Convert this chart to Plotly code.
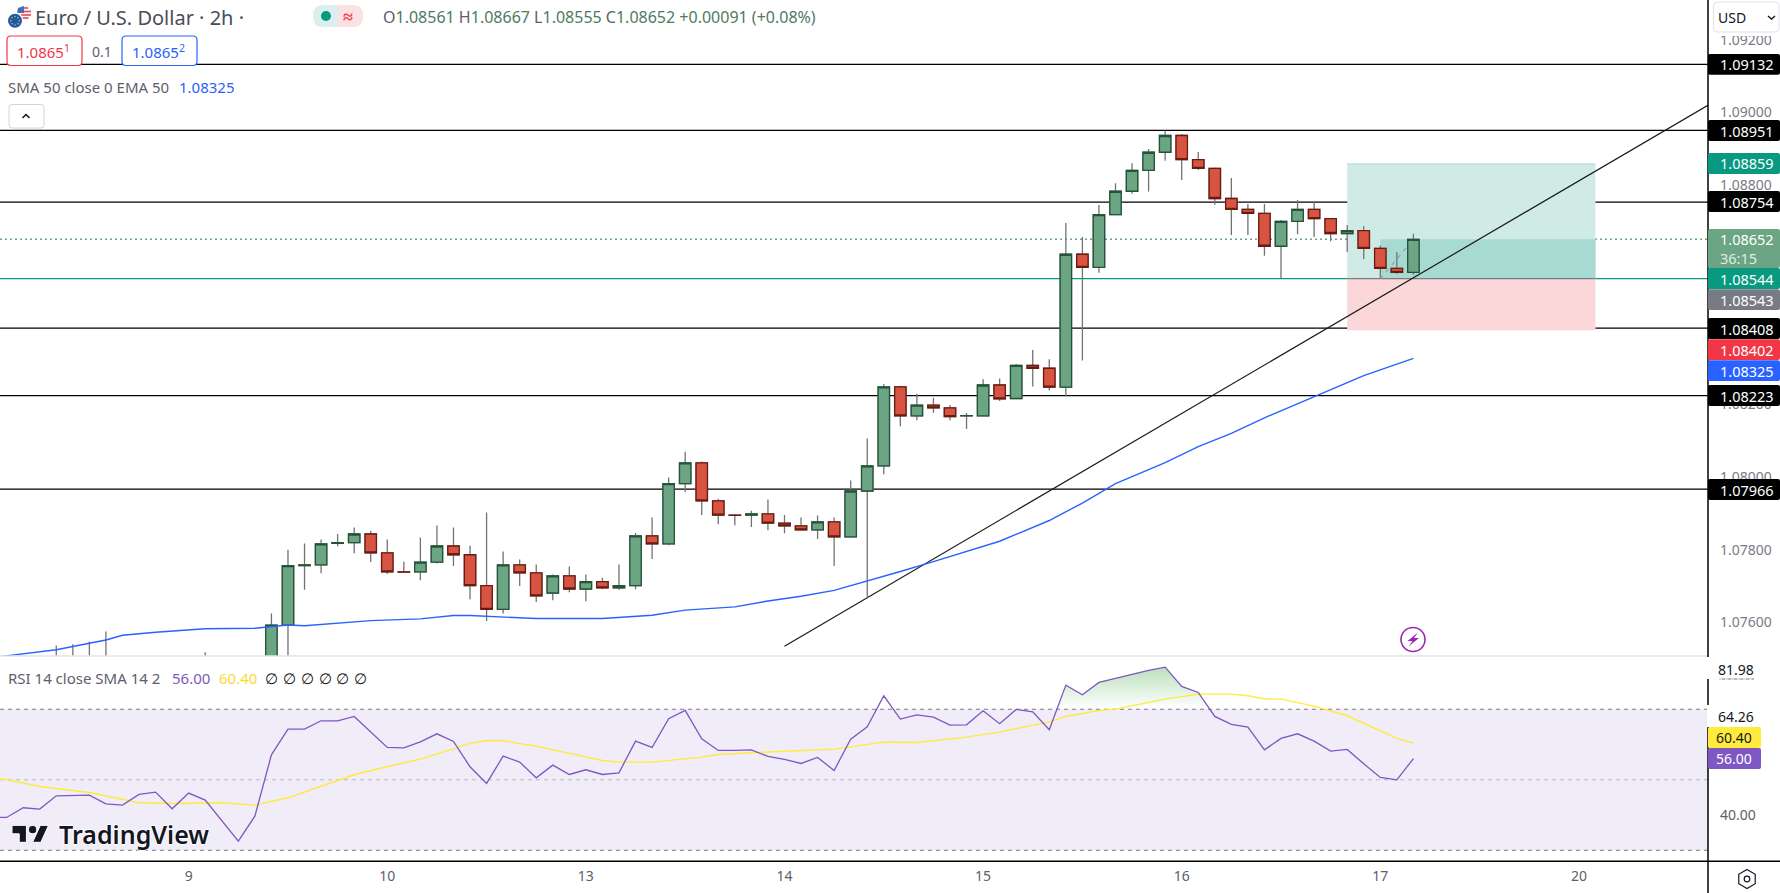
import numpy as np
import plotly.graph_objects as go

W, H = 1780, 893
# ---------- data ----------
bars   = [-80,-79,-78,-77,-71,-67,-66,-65,-64,-63,-62,-61,-60,-59,-58,-57,-56,-55,-54,-53,-52,-51,-50,-49,-48,-47,-46,-45,-44,-43,-42,-41,-40,-39,-38,-37,-36,-35,-34,-33,-32,-31,-30,-29,-28,-27,-26,-25,-24,-23,-22,-21,-20,-19,-18,-17,-16,-15,-14,-13,-12,-11,-10,-9,-8,-7,-6,-5,-4,-3,-2,-1,0,1,2]
opens  = [1.07480,1.07490,1.07480,1.07490,1.07475,1.07470,1.07593,1.07756,1.07758,1.07817,1.07819,1.07843,1.07791,1.07739,1.07739,1.07766,1.07810,1.07786,1.07701,1.07636,1.07758,1.07736,1.07681,1.07728,1.07692,1.07712,1.07695,1.07701,1.07838,1.07816,1.07981,1.08038,1.07934,1.07895,1.07895,1.07898,1.07873,1.07865,1.07854,1.07876,1.07835,1.07961,1.08030,1.08247,1.08167,1.08197,1.08189,1.08167,1.08167,1.08252,1.08215,1.08306,1.08298,1.08246,1.08611,1.08575,1.08720,1.08784,1.08841,1.08891,1.08937,1.08871,1.08847,1.08764,1.08734,1.08723,1.08633,1.08701,1.08734,1.08709,1.08668,1.08676,1.08627,1.08572,1.08561]
highs  = [1.07537,1.07540,1.07548,1.07575,1.07518,1.07625,1.07800,1.07817,1.07828,1.07843,1.07861,1.07852,1.07828,1.07767,1.07833,1.07866,1.07861,1.07811,1.07902,1.07795,1.07773,1.07759,1.07732,1.07754,1.07732,1.07723,1.07759,1.07846,1.07888,1.07998,1.08069,1.08042,1.07940,1.07898,1.07907,1.07938,1.07895,1.07888,1.07894,1.07888,1.07990,1.08105,1.08255,1.08250,1.08228,1.08217,1.08197,1.08175,1.08268,1.08270,1.08310,1.08348,1.08323,1.08697,1.08658,1.08746,1.08806,1.08861,1.08900,1.08951,1.08941,1.08892,1.08849,1.08820,1.08749,1.08749,1.08705,1.08760,1.08757,1.08709,1.08691,1.08688,1.08635,1.08617,1.08667]
lows   = [1.07400,1.07400,1.07400,1.07400,1.07400,1.07430,1.07450,1.07690,1.07735,1.07809,1.07790,1.07766,1.07733,1.07738,1.07716,1.07762,1.07755,1.07664,1.07604,1.07625,1.07700,1.07656,1.07661,1.07683,1.07658,1.07691,1.07690,1.07691,1.07774,1.07812,1.07958,1.07895,1.07870,1.07867,1.07862,1.07853,1.07845,1.07853,1.07829,1.07755,1.07834,1.07666,1.08007,1.08139,1.08155,1.08176,1.08155,1.08131,1.08166,1.08208,1.08215,1.08248,1.08237,1.08221,1.08319,1.08560,1.08720,1.08777,1.08783,1.08868,1.08815,1.08842,1.08747,1.08664,1.08664,1.08607,1.08545,1.08666,1.08658,1.08647,1.08617,1.08598,1.08545,1.08557,1.08555]
closes = [1.07470,1.07480,1.07490,1.07480,1.07470,1.07593,1.07756,1.07758,1.07816,1.07819,1.07843,1.07791,1.07739,1.07738,1.07766,1.07810,1.07786,1.07701,1.07636,1.07758,1.07736,1.07673,1.07728,1.07692,1.07712,1.07695,1.07701,1.07838,1.07816,1.07981,1.08038,1.07934,1.07895,1.07894,1.07898,1.07873,1.07865,1.07854,1.07876,1.07835,1.07961,1.08030,1.08247,1.08167,1.08197,1.08189,1.08165,1.08168,1.08252,1.08214,1.08306,1.08298,1.08246,1.08611,1.08575,1.08720,1.08784,1.08841,1.08891,1.08937,1.08871,1.08847,1.08764,1.08734,1.08723,1.08633,1.08701,1.08734,1.08709,1.08668,1.08676,1.08627,1.08572,1.08561,1.08652]

ema_bars = [-84,-80,-77,-76,-74,-71,-68,-67,-66,-65,-63,-61,-58,-56,-55,-53,-51,-47,-44,-42,-39,-37,-35,-33,-31,-29,-27,-25,-23,-20,-18,-16,-13,-11,-9,-7,-4,-1,2]
ema_vals = [1.07503,1.07525,1.07552,1.07565,1.07573,1.07583,1.07584,1.07589,1.07593,1.07591,1.07598,1.07605,1.07610,1.07619,1.07619,1.07614,1.07611,1.07611,1.07620,1.07634,1.07643,1.07659,1.07672,1.07688,1.07713,1.07740,1.07767,1.07795,1.07823,1.07880,1.07928,1.07981,1.08039,1.08083,1.08119,1.08162,1.08220,1.08278,1.08325]

rsi_bars = list(range(-84, 3))
rsi_vals = [39.31,39.31,42.06,41.68,45.46,45.56,45.65,43.19,42.81,45.84,46.50,41.77,46.22,44.23,38.46,32.60,39.69,57.09,64.37,64.37,66.74,66.74,67.97,63.52,59.17,59.08,60.78,63.05,60.87,53.69,48.96,56.71,55.01,50.57,54.16,51.51,52.84,51.51,51.99,60.97,59.17,67.31,69.67,61.63,58.32,58.32,58.51,56.62,55.77,54.63,56.34,52.65,61.54,65.04,73.83,67.21,68.44,67.78,65.51,65.60,69.57,65.89,69.95,69.29,64.18,76.86,74.11,77.61,78.75,80.07,81.02,81.96,76.48,74.78,67.97,65.70,64.94,58.51,61.73,63.05,60.97,58.13,58.61,54.54,50.66,50.00,56.00]
sma_bars = [-84,-83,-81,-78,-75,-73,-70,-68,-66,-64,-62,-60,-58,-56,-55,-54,-53,-51,-47,-46,-44,-41,-40,-38,-33,-30,-28,-25,-23,-21,-20,-19,-17,-16,-13,-11,-9,-8,-7,-6,-4,-2,0,1,2]
sma_vals = [50.28,50.09,48.11,46.41,43.48,43.29,43.48,42.81,44.89,48.11,51.42,53.78,55.86,58.79,60.40,61.06,61.06,59.55,55.48,55.01,55.01,56.43,57.19,57.66,58.70,60.69,60.59,62.10,63.52,65.51,66.36,67.97,69.67,70.05,72.88,74.30,74.30,73.83,72.98,72.88,70.90,68.16,64.00,61.73,60.40]

level_lines = [1.09132, 1.08951, 1.08754, 1.08408, 1.08223, 1.07966]
entry, stop_price, target = 1.08544, 1.08402, 1.08859
last_price = 1.08652
trend_bars, trend_vals = [-36, 19.83], [1.07535, 1.09021]
price_ticks = [1.092, 1.090, 1.088, 1.082, 1.080, 1.078, 1.076]
day_ticks = [-72, -60, -48, -36, -24, -12, 0, 12]
day_labels = ["9", "10", "13", "14", "15", "16", "17", "20"]

# ---------- colours / fonts ----------
FONT = "Noto Sans"
GREEN, GREEN_D = "#6ba583", "#225437"
RED, RED_D = "#d75442", "#6b1a10"
WICK = "#737375"
TEAL, SELL, BLUE, GREY, PURPLE, YELLOW = "#089981", "#f23645", "#2962ff", "#787b86", "#7e57c2", "#fdd835"
TXT = "#5d606b"

X = lambda px: px / W
Y = lambda py: 1 - py / H
KL, KR = -83.4, 19.8

fig = go.Figure()
common = dict(whiskerwidth=0, hoverinfo="skip", showlegend=False)
fig.add_trace(go.Candlestick(x=bars, open=opens, high=highs, low=lows, close=closes, xaxis="x", yaxis="y",
    increasing=dict(line=dict(color=WICK, width=1.3), fillcolor=GREEN),
    decreasing=dict(line=dict(color=WICK, width=1.3), fillcolor=RED), **common))
fig.add_trace(go.Candlestick(x=bars, open=opens, close=closes,
    high=[max(o, c) for o, c in zip(opens, closes)], low=[min(o, c) for o, c in zip(opens, closes)],
    xaxis="x", yaxis="y",
    increasing=dict(line=dict(color=GREEN_D, width=1.3), fillcolor=GREEN),
    decreasing=dict(line=dict(color=RED_D, width=1.3), fillcolor=RED), **common))
fig.add_trace(go.Scatter(x=ema_bars, y=ema_vals, mode="lines", line=dict(color=BLUE, width=1.4),
                         hoverinfo="skip", showlegend=False))
fig.add_trace(go.Scatter(x=[0, 2], y=[entry, last_price], mode="lines", line=dict(color="#9a9ca3", width=1.2, dash="4px 5px"),
                         hoverinfo="skip", showlegend=False))

# RSI overbought fill
rb, rv = np.array(rsi_bars, float), np.array(rsi_vals, float)
mask = (rb >= -19) & (rb <= -11)
x0c = -20 + (70 - rsi_vals[rsi_bars.index(-20)]) / (rsi_vals[rsi_bars.index(-19)] - rsi_vals[rsi_bars.index(-20)])
x1c = -11 + (70 - rsi_vals[rsi_bars.index(-11)]) / (rsi_vals[rsi_bars.index(-10)] - rsi_vals[rsi_bars.index(-11)])
fig.add_trace(go.Scatter(x=[x0c, *rb[mask], x1c], y=[70, *rv[mask], 70], mode="none", fill="toself",
    fillgradient=dict(type="vertical", colorscale=[[0, "rgba(76,175,80,0)"], [1, "rgba(76,175,80,0.38)"]]),
    xaxis="x2", yaxis="y2", hoverinfo="skip", showlegend=False))
fig.add_trace(go.Scatter(x=sma_bars, y=sma_vals, mode="lines", line=dict(color="#ffeb3b", width=1.4), xaxis="x2", yaxis="y2",
                         hoverinfo="skip", showlegend=False))
fig.add_trace(go.Scatter(x=rsi_bars, y=rsi_vals, mode="lines", line=dict(color=PURPLE, width=1.3), xaxis="x2", yaxis="y2",
                         hoverinfo="skip", showlegend=False))

shapes = []
def s(**k):
    shapes.append(k)
def rr(x0, y0, x1, y1, r=3):
    return (f"M{X(x0+r)},{Y(y0)} L{X(x1-r)},{Y(y0)} Q{X(x1)},{Y(y0)} {X(x1)},{Y(y0+r)} "
            f"L{X(x1)},{Y(y1-r)} Q{X(x1)},{Y(y1)} {X(x1-r)},{Y(y1)} L{X(x0+r)},{Y(y1)} "
            f"Q{X(x0)},{Y(y1)} {X(x0)},{Y(y1-r)} L{X(x0)},{Y(y0+r)} Q{X(x0)},{Y(y0)} {X(x0+r)},{Y(y0)} Z")
def pth(points, close=True):
    d = "M" + " L".join(f"{X(a)},{Y(b)}" for a, b in points)
    return d + (" Z" if close else "")
def paper_path(d, fill=None, lc=None, lw=0, layer="above"):
    s(type="path", path=d, xref="paper", yref="paper", fillcolor=fill or "rgba(0,0,0,0)",
      line=dict(color=lc or "rgba(0,0,0,0)", width=lw), layer=layer)
def circ(cx, cy, r, fill=None, lc=None, lw=0):
    s(type="circle", xref="paper", yref="paper", x0=X(cx-r), x1=X(cx+r), y0=Y(cy+r), y1=Y(cy-r),
      fillcolor=fill or "rgba(0,0,0,0)", line=dict(color=lc or "rgba(0,0,0,0)", width=lw), layer="above")
def prect(x0, y0, x1, y1, fill, layer="above"):
    s(type="rect", xref="paper", yref="paper", x0=X(x0), x1=X(x1), y0=Y(y1), y1=Y(y0), fillcolor=fill, line=dict(width=0), layer=layer)

# position tool
s(type="rect", xref="x", yref="y", x0=-2, x1=13, y0=entry, y1=target, fillcolor="#d0ebe5", line=dict(width=0), layer="below")
s(type="line", xref="x", yref="y", x0=-2, x1=13, y0=target, y1=target, line=dict(color="#a9dbd1", width=1), layer="below")
s(type="rect", xref="x", yref="y", x0=-2, x1=13, y0=stop_price, y1=entry, fillcolor="#fbd7da", line=dict(width=0), layer="below")
s(type="rect", xref="x", yref="y", x0=0, x1=13, y0=entry, y1=last_price, fillcolor="#a7dad0", line=dict(width=0), layer="below")
# levels
for v in level_lines:
    s(type="line", xref="x domain", yref="y", x0=0, x1=1, y0=v, y1=v, line=dict(color="#000", width=1.3), layer="below")
s(type="line", xref="x domain", yref="y", x0=0, x1=1, y0=entry, y1=entry, line=dict(color=TEAL, width=1.4), layer="below")
s(type="line", xref="x", yref="y", x0=-2, x1=13, y0=entry, y1=entry, line=dict(color=GREY, width=1.3), layer="below")
s(type="line", xref="x domain", yref="y", x0=0, x1=1, y0=last_price, y1=last_price,
  line=dict(color=GREEN, width=1.4, dash="2px 3px"), layer="below")
s(type="line", xref="x", yref="y", x0=trend_bars[0], x1=trend_bars[1], y0=trend_vals[0], y1=trend_vals[1],
  line=dict(color="#1a1a1a", width=1.2), layer="below")
# RSI band
s(type="rect", xref="x2 domain", yref="y2", x0=0, x1=1, y0=30, y1=70, fillcolor="#f0ecf8", line=dict(width=0), layer="below")
for v, c in [(70, GREY), (50, "#b9bac0"), (30, GREY)]:
    s(type="line", xref="x2 domain", yref="y2", x0=0, x1=1, y0=v, y1=v, line=dict(color=c, width=1.1, dash="4px 4px"), layer="below")
# frame
paper_path(pth([(0, 656), (1708, 656)], False), lc="#e0e3eb", lw=1.5)
paper_path(pth([(0, 861.3), (W, 861.3)], False), lc="#000", lw=1.5)
paper_path(pth([(1708, 0), (1708, H)], False), lc="#000", lw=1.5)
# white patches behind the RSI scale labels
prect(1707, 657, 1761, 679, "#fff")
prect(1707, 705, 1761, 727, "#fff")
paper_path(pth([(1719, 679), (1754, 679)], False), lc=GREY, lw=1)
s(type="line", xref="paper", yref="paper", x0=X(1719), x1=X(1754), y0=Y(679), y1=Y(679),
  line=dict(color="#fff", width=1, dash="3px 3px"), layer="above")

# USD button
prect(1709, 0, W, 36, "#fff")
paper_path(rr(1713.5, 2, 1779, 32, 4), fill="#fff", lc="#e0e3eb", lw=1)
paper_path(pth([(1768, 16), (1771.5, 19), (1775, 16)], False), lc="#131722", lw=1.4)
# scale tags
tags = [(64.3, "#000"), (130.5, "#000"), (163.5, TEAL), (201.5, "#000"), (278.5, TEAL), (299.7, "#787b86"),
        (328.5, "#000"), (349.7, SELL), (370.7, BLUE), (395.5, "#000"), (489.5, "#000")]
for py, c in tags:
    paper_path(rr(1708, py-10.4, 1780, py+10.4, 2), fill=c)
paper_path(rr(1708, 229, 1780, 268, 2), fill=GREEN)
paper_path(rr(1708, 727, 1761, 748, 2), fill="#ffeb3b")
paper_path(rr(1708, 748, 1761, 769, 2), fill=PURPLE)
# order buttons
paper_path(rr(7, 36, 82, 65.5, 4), fill="#fff", lc=SELL, lw=1.2)
paper_path(rr(122, 36, 197, 65.5, 4), fill="#fff", lc=BLUE, lw=1.2)
# collapse button
paper_path(rr(9, 104.5, 44, 128, 3), fill="#fff", lc="#d1d4dc", lw=1)
paper_path(pth([(22.5, 118), (26, 114.5), (29.5, 118)], False), lc="#131722", lw=1.5)
# market status pill
paper_path(rr(313, 5, 345, 27, 10), fill="#dcefec")
paper_path(rr(331, 5, 363, 27, 10), fill="#fde0e3")
prect(323, 5, 338, 27, "#dcefec")
circ(326, 16, 5, fill=TEAL)
# flags
circ(24, 12.7, 7.5, fill="#f5f5f5")
for yy, hw in [(8, 4), (11.5, 7), (15, 7), (18, 4.5)]:
    paper_path(pth([(24-hw+2, yy), (24+hw, yy)], False), lc="#e8485a", lw=1.6)
paper_path(pth([(18, 8), (24, 6), (24, 13), (17, 13)]), fill="#3f6fb5")
circ(15, 20.7, 8.4, fill="#fff")
circ(15, 20.7, 7, fill="#1d5aa8")
for a in np.deg2rad(np.arange(0, 360, 45)):
    circ(15 + 4.2*np.cos(a), 20.7 + 4.2*np.sin(a), 0.7, fill="#f4c93b")
# watermark logo
ox, oy, sx, sy = 12, 819, 1.03, 1.06
T = lambda a, b: (ox + a*sx, oy + b*sy)
paper_path(pth([T(14, 6), T(0, 6), T(0, 14), T(7, 14), T(7, 22), T(14, 22)]), fill="#131722", lc="#fff", lw=1)
circ(*T(20, 10), 4.1, fill="#131722", lc="#fff", lw=1)
paper_path(pth([T(28, 22), T(20, 22), T(27.5, 6), T(35.5, 6)]), fill="#131722", lc="#fff", lw=1)
# news icon
circ(1413, 639.5, 12, lc="#9c27b0", lw=1.6)
paper_path(pth([(1418, 632.5), (1407.5, 641), (1412.5, 641), (1408.5, 646.5), (1419, 638), (1414, 638)]), fill="#9c27b0")
# settings icon
hexa = [(1747 + 9.5*np.sin(t), 879 - 9.5*np.cos(t)) for t in np.deg2rad(np.arange(0, 360, 60))]
paper_path(pth(hexa), lc="#131722", lw=1.2)
circ(1747, 879, 2.8, lc="#131722", lw=1.2)

ann = []
def note(px, py, text, size=14, color=TXT, anchor="left", weight=None, shadow=None):
    f = dict(family=FONT, size=size, color=color)
    if weight: f["weight"] = weight
    if shadow: f["shadow"] = shadow
    ann.append(dict(xref="paper", yref="paper", x=X(px), y=Y(py), text=text, showarrow=False, xanchor=anchor, yanchor="middle", font=f, borderpad=0, borderwidth=0))

note(35, 17, "Euro / U.S. Dollar · 2h ·", 20, "#4a4d57")
note(348, 16, "≈", 18, SELL, "center", weight=700)
V = "#4f7a62"
sp = lambda lab, val: f"{lab}<span style='color:{V}'>{val}</span>"
note(383, 17, " ".join([sp("O", "1.08561"), sp("H", "1.08667"), sp("L", "1.08555"), sp("C", "1.08652"),
                        f"<span style='color:{V}'>+0.00091 (+0.08%)</span>"]), 16, TXT)
note(43.5, 51, "1.0865<sup>1</sup>", 15, SELL, "center")
note(101.6, 51, "0.1", 14, TXT, "center")
note(158.5, 51, "1.0865<sup>2</sup>", 15, BLUE, "center")
note(8, 87, "SMA 50 close 0 EMA 50", 15, TXT)
note(179, 87, "1.08325", 15, BLUE)
note(8, 678, "RSI 14 close SMA 14 2", 15, TXT)
note(172, 678, "56.00", 15, PURPLE)
note(219, 678, "60.40", 15, YELLOW)
for px in [271, 289, 307, 325, 342, 360]:
    note(px, 678, "∅", 15, "#131722", "center")
halo = "1px 0 0 #fff, -1px 0 0 #fff, 0 1px 0 #fff, 0 -1px 0 #fff"
note(59, 834, "TradingView", 25, "#131722", weight=600, shadow=halo)
note(1718, 17, "USD", 14, "#131722")
for py, t in [(64.3, "1.09132"), (130.5, "1.08951"), (163.5, "1.08859"), (201.5, "1.08754"),
              (239.5, "1.08652"), (278.5, "1.08544"), (299.7, "1.08543"), (328.5, "1.08408"),
              (349.7, "1.08402"), (370.7, "1.08325"), (395.5, "1.08223"), (489.5, "1.07966")]:
    note(1720, py, t, 14.5, "#fff")
note(1720, 257.5, "36:15", 14.5, "#dfeee5")
note(1736, 669, "81.98", 14, "#131722", "center")
note(1736, 716.7, "64.26", 14, "#131722", "center")
note(1734, 737.5, "60.40", 14, "#131722", "center")
note(1734, 758.5, "56.00", 14, "#fff", "center")

fig.update_layout(
    width=W, height=H, margin=dict(l=0, r=0, t=0, b=0), paper_bgcolor="#fff", plot_bgcolor="#fff",
    showlegend=False, boxmode="overlay", boxgap=0.17, boxgroupgap=0.17, hovermode=False,
    xaxis=dict(domain=[0, X(1708)], range=[KL, KR], anchor="y", showgrid=False, zeroline=False, showline=False,
               showticklabels=False, ticks="", rangeslider=dict(visible=False), fixedrange=True),
    yaxis=dict(domain=[Y(656), 1], range=[1.07508, 1.09309], anchor="x", side="right", showgrid=False, zeroline=False, showline=False,
               tickvals=price_ticks, tickformat=".5f", ticks="", ticklabelstandoff=11,
               tickfont=dict(family=FONT, size=14, color=GREY), fixedrange=True),
    xaxis2=dict(domain=[0, X(1708)], range=[KL, KR], anchor="y2", showgrid=False, zeroline=False, showline=False,
                tickvals=day_ticks, ticktext=day_labels, ticks="", ticklabelstandoff=5,
                tickfont=dict(family=FONT, size=14, color=TXT), fixedrange=True),
    yaxis2=dict(domain=[Y(861), Y(656)], range=[26.96, 85.12], anchor="x2", side="right", showgrid=False, zeroline=False, showline=False,
                tickvals=[40], ticktext=["40.00"], ticks="", ticklabelstandoff=11,
                tickfont=dict(family=FONT, size=14, color=TXT), fixedrange=True),
    shapes=shapes, annotations=ann, font=dict(family=FONT),
)
fig.write_html("out.html", config=dict(displayModeBar=False),
               post_script="document.body.style.margin='0';document.body.style.overflow='hidden';")
